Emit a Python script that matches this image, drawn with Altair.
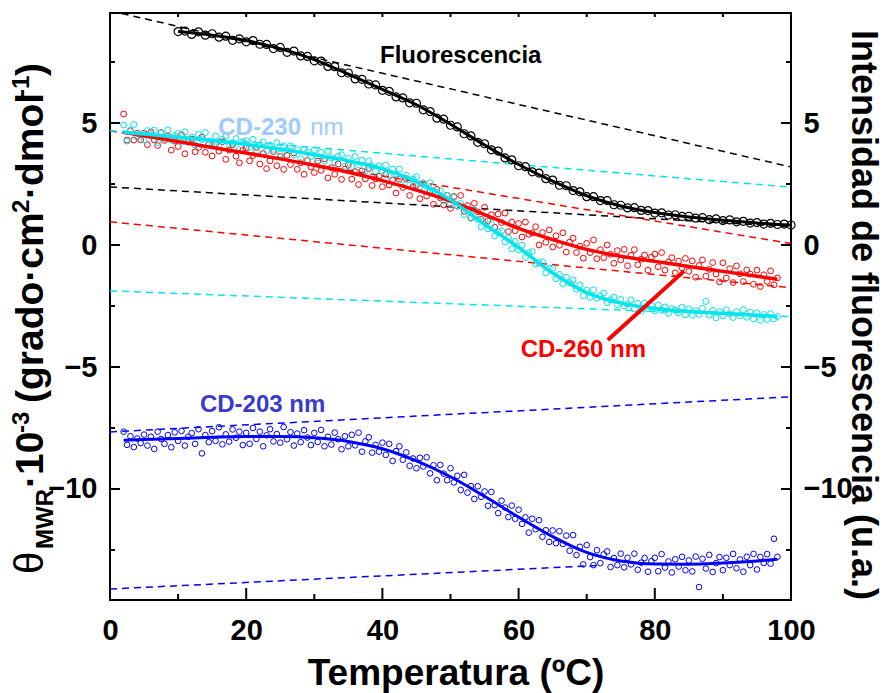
import altair as alt
import pandas as pd

FONT = "Liberation Sans"
BLACK, RED, CYAN, BLUE = "#000000", "#ff0000", "#00e5ee", "#0000ff"

# CD scans: one reading every 0.5 degC from 2 to 98 degC
cd_temps = [2 + 0.5 * i for i in range(193)]

cd260 = [
    5.37, 4.30, 4.68, 4.30, 4.58, 4.31,
    4.58, 4.11, 4.63, 4.31, 4.08, 4.61, 4.29, 4.46, 3.89, 4.26,
    4.04, 4.52, 3.74, 4.22, 4.34, 3.82, 4.00, 4.42, 3.80, 4.12,
    3.65, 4.13, 3.85, 4.23, 3.51, 3.89, 4.11, 3.64, 3.37, 3.89,
    3.97, 3.45, 3.67, 4.00, 3.32, 3.75, 3.13, 3.45, 3.83, 3.25,
    3.63, 3.10, 3.68, 3.30, 3.78, 3.10, 3.37, 2.90, 3.47, 3.20,
    2.97, 3.44, 3.06, 3.53, 2.75, 3.17, 2.90, 3.32, 2.69, 3.11,
    3.28, 2.70, 3.01, 2.48, 3.04, 2.71, 3.13, 2.44, 2.71, 2.82,
    2.39, 2.90, 2.46, 2.67, 2.13, 2.70, 2.36, 2.72, 2.03, 2.39,
    2.45, 1.90, 2.51, 2.01, 2.22, 1.67, 2.28, 1.93, 1.64, 2.04,
    1.50, 1.99, 1.59, 2.03, 1.38, 1.62, 1.12, 1.71, 1.36, 1.05,
    1.55, 0.99, 1.24, 0.73, 1.27, 0.92, 1.31, 0.55, 0.94, 0.59,
    0.88, 0.33, 0.94, 0.44, 0.50, 0.75, 0.00, 0.51, 0.11, 0.62,
    -0.08, 0.38, -0.01, 0.50, -0.29, 0.12, 0.28, -0.31, -0.05, -0.54,
    0.07, -0.31, 0.21, -0.56, -0.19, -0.52, 0.00, -0.38, -0.75, -0.23,
    -0.61, -0.18, -0.85, -0.42, -0.19, -0.81, -0.58, -0.41, -1.03, -0.50,
    -0.37, -0.89, -0.31, -1.03, -0.70, -0.52, -1.14, -0.66, -0.93, -0.55,
    -1.08, -0.65, -1.32, -0.84, -0.61, -1.28, -1.00, -0.72, -1.19, -1.51,
    -0.73, -1.35, -0.97, -1.54, -0.86, -1.18, -1.50, -1.02, -1.19, -1.61,
    -1.03, -1.70, -1.22, -1.49, -1.06, -1.63, -1.35,
]

cd230 = [
    4.92, 4.26, 4.70, 4.94, 4.42, 4.56,
    4.30, 4.69, 4.47, 4.71, 4.20, 4.59, 4.37, 4.71, 4.30, 4.48,
    4.57, 4.21, 4.64, 4.28, 4.42, 4.10, 4.54, 4.32, 4.61, 4.15,
    4.18, 4.46, 4.05, 4.33, 4.46, 4.05, 4.18, 4.36, 3.90, 4.23,
    4.27, 4.00, 4.33, 3.86, 4.10, 4.23, 3.86, 4.09, 3.92, 4.20,
    3.73, 4.06, 3.88, 4.06, 3.69, 3.91, 3.54, 3.92, 3.80, 3.62,
    3.90, 3.58, 3.80, 3.43, 3.85, 3.58, 3.40, 3.63, 3.70, 3.23,
    3.55, 3.22, 3.63, 3.30, 3.47, 3.03, 3.45, 3.22, 3.03, 3.25,
    3.02, 3.27, 2.82, 3.12, 2.91, 3.11, 2.66, 2.86, 2.46, 2.70,
    2.80, 2.38, 2.55, 2.18, 2.55, 2.23, 2.05, 2.23, 1.80, 2.03,
    1.70, 1.95, 1.60, 1.70, 1.25, 1.45, 1.10, 1.40, 1.05, 0.75,
    1.00, 0.66, 0.86, 0.37, 0.52, 0.58, 0.13, 0.29, -0.16, 0.15,
    -0.20, -0.01, -0.51, -0.32, -0.27, -0.78, -0.73, -0.69, -1.14, -0.95,
    -0.95, -1.38, -1.21, -1.59, -1.32, -1.55, -1.43, -1.81, -1.64, -2.07,
    -1.85, -2.14, -1.84, -2.18, -2.07, -1.97, -2.36, -2.25, -2.14, -2.44,
    -2.23, -2.50, -2.42, -2.25, -2.62, -2.39, -2.71, -2.38, -2.61, -2.48,
    -2.70, -2.46, -2.67, -2.54, -2.80, -2.61, -2.67, -2.78, -2.55, -2.86,
    -2.62, -2.88, -2.69, -2.84, -2.60, -2.31, -2.87, -2.68, -2.98, -2.74,
    -2.90, -2.66, -2.82, -2.97, -2.73, -2.89, -2.65, -2.96, -2.76, -3.02,
    -2.78, -3.09, -2.85, -3.05, -2.81, -3.02, -2.93,
]

cd203 = [
    -7.65, -8.19, -7.84, -8.28, -7.93, -8.12,
    -7.77, -8.22, -7.86, -8.36, -7.65, -7.95, -8.15, -7.79, -8.29, -7.68,
    -8.03, -7.62, -8.22, -7.86, -7.71, -8.15, -7.55, -8.54, -7.79, -8.08,
    -7.63, -8.03, -7.47, -8.17, -7.76, -8.06, -7.56, -7.90, -7.65, -8.20,
    -7.70, -8.15, -7.50, -7.95, -7.65, -8.25, -7.80, -7.55, -8.05, -7.75,
    -8.10, -7.46, -7.96, -7.67, -8.22, -7.73, -8.08, -7.59, -7.89, -8.20,
    -7.70, -8.07, -7.58, -8.25, -7.86, -8.18, -7.69, -7.96, -8.37, -7.84,
    -8.25, -7.78, -8.21, -7.69, -8.47, -8.05, -7.88, -8.51, -8.19, -8.47,
    -8.10, -8.60, -8.15, -8.85, -8.45, -8.25, -8.80, -8.50, -9.05, -8.75,
    -9.15, -8.72, -9.08, -8.70, -9.36, -9.03, -9.64, -9.01, -9.37, -9.64,
    -9.15, -9.73, -9.46, -10.04, -9.42, -10.15, -9.88, -10.41, -9.89, -10.32,
    -10.10, -10.69, -10.12, -10.66, -10.99, -10.48, -10.76, -11.15, -10.68, -11.22,
    -10.85, -11.43, -11.16, -11.79, -11.22, -11.65, -11.28, -11.96, -11.69, -12.17,
    -11.70, -12.22, -11.73, -12.25, -11.91, -12.53, -11.89, -12.71, -12.37, -13.09,
    -12.30, -12.79, -13.12, -12.51, -13.04, -12.68, -12.56, -13.20, -12.83, -13.12,
    -12.65, -13.21, -12.82, -13.09, -12.65, -13.31, -13.02, -12.83, -13.39, -12.96,
    -12.82, -13.37, -12.67, -13.22, -12.97, -13.42, -12.88, -13.18, -12.78, -13.33,
    -12.93, -13.38, -12.77, -14.02, -12.86, -13.26, -12.70, -13.40, -13.04, -12.79,
    -13.33, -12.82, -13.12, -12.66, -13.25, -12.89, -13.39, -12.78, -13.12, -12.66,
    -13.30, -12.79, -13.03, -12.67, -13.06, -12.04, -12.78,
]

# fluorescence: one reading per degree from 10 to 100 degC
fl_temps = list(range(10, 101))
fluor = [
    8.75, 8.77, 8.63, 8.74, 8.60,
    8.66, 8.52, 8.56, 8.39, 8.45,
    8.33, 8.38, 8.23, 8.22, 8.05,
    8.10, 7.90, 7.95, 7.75, 7.73,
    7.55, 7.54, 7.32, 7.31, 7.06,
    7.05, 6.81, 6.79, 6.60, 6.56,
    6.34, 6.30, 6.07, 6.03, 5.83,
    5.81, 5.54, 5.47, 5.20, 5.16,
    4.91, 4.84, 4.56, 4.47, 4.21,
    4.15, 3.90, 3.85, 3.57, 3.49,
    3.25, 3.21, 3.00, 2.95, 2.72,
    2.66, 2.45, 2.43, 2.23, 2.18,
    1.98, 1.98, 1.82, 1.82, 1.65,
    1.63, 1.52, 1.53, 1.42, 1.41,
    1.31, 1.32, 1.23, 1.24, 1.17,
    1.18, 1.10, 1.12, 1.04, 1.07,
    1.00, 1.03, 0.95, 0.97, 0.90,
    0.92, 0.86, 0.89, 0.84, 0.86, 0.82,
]

# fitted unfolding curves
fit_temps_cd = [2, 5, 10, 15, 20, 25, 30, 35, 40, 45, 50, 55, 60, 65, 70, 75, 80, 85, 90, 95, 98]
fit260 = [4.62, 4.48, 4.24, 4.00, 3.77, 3.53, 3.27, 2.98, 2.64, 2.25, 1.80, 1.25, 0.68,
          0.22, -0.18, -0.46, -0.67, -0.88, -1.08, -1.28, -1.40]
fit230 = [4.62, 4.55, 4.42, 4.28, 4.12, 3.93, 3.70, 3.45, 3.12, 2.60, 1.85, 0.85, -0.10,
          -1.15, -1.95, -2.38, -2.60, -2.72, -2.80, -2.88, -2.93]
fit203 = [-8.00, -7.97, -7.93, -7.88, -7.85, -7.85, -7.90, -8.05, -8.35, -8.85, -9.50,
          -10.30, -11.15, -11.95, -12.60, -12.95, -13.07, -13.08, -13.03, -12.95, -12.88]
fit_temps_fl = [10, 15, 20, 25, 30, 35, 40, 45, 50, 55, 60, 65, 70, 75, 80, 85, 90, 95, 100]
fit_fl = [8.75, 8.60, 8.38, 8.05, 7.60, 7.00, 6.38, 5.75, 4.95, 4.10, 3.30, 2.62, 2.02,
          1.60, 1.33, 1.15, 1.02, 0.90, 0.82]

# linear pre- and post-transition baselines (start and end points)
base_colors = [BLACK, BLACK, RED, RED, CYAN, CYAN, BLUE, BLUE]
base_t0 = [0, 0, 0, 0, 0, 0, 0, 0]
base_y0 = [9.60, 2.38, 4.68, 0.95, 4.69, -1.88, -7.66, -14.10]
base_t1 = [100, 100, 100, 100, 100, 100, 100, 72]
base_y1 = [3.20, 0.75, 0.06, -1.75, 2.37, -2.93, -6.22, -13.13]

# leader line from the CD-260 label to its curve
ptr_t = [73.1, 84.3]
ptr_y = [-3.89, -1.07]

x_ticks = [0, 20, 40, 60, 80, 100]
x_minor = [10, 30, 50, 70, 90]
x_top = [10, 20, 30, 40, 50, 60, 70, 80, 90]
y_ticks = [-10, -5, 0, 5]
y_minor = [-12.5, -7.5, -2.5, 2.5, 7.5]

W, H = 681, 587
x_scale = alt.Scale(domain=[0, 100], nice=False, zero=False)
y_scale = alt.Scale(domain=[-14.55, 9.51], nice=False, zero=False)

label_style = dict(labelFont=FONT, labelFontSize=29, labelFontWeight="bold",
                   labelColor=BLACK, domain=False, ticks=False, tickSize=0,
                   grid=False, title=None, labelFlush=False)
x_axis = alt.Axis(values=x_ticks, labelPadding=16, **label_style)
y_axis_left = alt.Axis(values=y_ticks, orient="left", labelPadding=13, **label_style)
y_axis_right = alt.Axis(values=y_ticks, orient="right", labelPadding=12, **label_style)


def xq(field):
    return alt.X(f"{field}:Q", scale=x_scale, axis=x_axis)


def yq(field, axis=y_axis_left):
    return alt.Y(f"{field}:Q", scale=y_scale, axis=axis)


def series(temps, values):
    return pd.DataFrame({"T": temps, "v": values})


df_base = pd.DataFrame({"t0": base_t0, "y0": base_y0, "t1": base_t1,
                        "y1": base_y1, "color": base_colors})
baselines = alt.Chart(df_base).mark_rule(strokeDash=[7, 5], strokeWidth=1.5, clip=True).encode(
    x=xq("t0"), x2="t1:Q", y=yq("y0"), y2="y1:Q",
    color=alt.Color("color:N", scale=None),
)


def dots(temps, values, color, size, sw):
    return alt.Chart(series(temps, values)).mark_point(
        shape="circle", filled=False, size=size, strokeWidth=sw, color=color, opacity=1
    ).encode(x=xq("T"), y=yq("v"))


def fit(temps, values, color, width):
    return alt.Chart(series(temps, values)).mark_line(
        interpolate="monotone", strokeWidth=width, color=color
    ).encode(x=xq("T"), y=yq("v"))


def label(t, v, text, color, weight="bold", align="left", size=24):
    df = pd.DataFrame({"T": [t], "v": [v], "txt": [text]})
    return alt.Chart(df).mark_text(
        align=align, baseline="alphabetic", font=FONT, fontSize=size,
        fontWeight=weight, color=color
    ).encode(x=xq("T"), y=yq("v"), text="txt:N")


df_ptr = pd.DataFrame({"t0": [ptr_t[0]], "y0": [ptr_y[0]], "t1": [ptr_t[1]], "y1": [ptr_y[1]]})
pointer = alt.Chart(df_ptr).mark_rule(strokeWidth=4, color=RED).encode(
    x=xq("t0"), x2="t1:Q", y=yq("y0"), y2="y1:Q"
)


def xtick(vals, y0, y1):
    return alt.Chart(pd.DataFrame({"T": vals})).mark_rule(strokeWidth=2, color=BLACK).encode(
        x=xq("T"), y=alt.value(y0), y2=alt.value(y1)
    )


def ytick(vals, x0, x1, axis=y_axis_left):
    return alt.Chart(pd.DataFrame({"v": vals})).mark_rule(strokeWidth=2, color=BLACK).encode(
        y=yq("v", axis), x=alt.value(x0), x2=alt.value(x1)
    )


def free_text(text, px, py, size, weight="bold", angle=0, align="left"):
    return alt.Chart(pd.DataFrame({"txt": [text]})).mark_text(
        align=align, baseline="alphabetic", font=FONT, fontSize=size,
        fontWeight=weight, angle=angle, color=BLACK
    ).encode(x=alt.value(px), y=alt.value(py), text="txt:N")


# rotated left-axis title, built piece by piece for the sub/superscripts
left_title = [
    ("θ", -67, 561, 40, "normal"),
    ("MWR", -57, 536, 24, "bold"),
    ("·10", -67, 475, 39, "bold"),
    ("-3", -81, 420, 24, "bold"),
    ("(grado·cm", -67, 390, 39, "bold"),
    ("2", -81, 200, 24, "bold"),
    ("·dmol", -67, 186, 39, "bold"),
    ("-1", -81, 84, 24, "bold"),
    (")", -67, 63, 39, "bold"),
]
title_layers = [free_text(t, px, py, s, w, angle=270) for t, px, py, s, w in left_title]
title_layers.append(free_text("Intensidad de fluorescencia (u.a.)", 742, 302, 36, angle=90, align="center"))
title_layers.append(free_text("Temperatura (ºC)", 346, 672, 37, align="center"))

main = alt.layer(
    baselines,
    dots(cd_temps, cd260, RED, 34, 1.0),
    dots(cd_temps, cd230, CYAN, 36, 1.0),
    dots(cd_temps, cd203, BLUE, 32, 1.0),
    dots(fl_temps, fluor, BLACK, 64, 1.2),
    fit(fit_temps_cd, fit260, RED, 3.5),
    fit(fit_temps_cd, fit230, CYAN, 3.5),
    fit(fit_temps_cd, fit203, BLUE, 3),
    fit(fit_temps_fl, fit_fl, BLACK, 3),
    pointer,
    label(51.5, 7.46, "Fluorescencia", BLACK, align="center"),
    label(15.9, 4.51, "CD-230", "#9dcbff"),
    label(29.4, 4.51, "nm", "#9dcbff", weight="normal"),
    label(60.3, -4.59, "CD-260 nm", RED),
    label(13.2, -6.84, "CD-203 nm", "#3a3acc"),
    xtick(x_ticks, H, H - 12),
    xtick(x_minor, H, H - 6),
    xtick(x_top, 0, 4),
    ytick(y_ticks, 0, 10),
    ytick(y_minor, 0, 5),
    *title_layers,
)

right = alt.layer(
    ytick(y_ticks, W, W - 10, y_axis_right),
    ytick(y_minor, W, W - 5, y_axis_right),
)

chart = alt.layer(main, right).resolve_scale(y="independent").properties(
    width=W, height=H,
    padding={"left": 110, "top": 13, "right": 95, "bottom": 93},
    autosize=alt.AutoSizeParams(type="none"),
).configure_view(stroke=BLACK, strokeWidth=2)

chart.save("out.html", embed_options={"renderer": "svg", "actions": False})
